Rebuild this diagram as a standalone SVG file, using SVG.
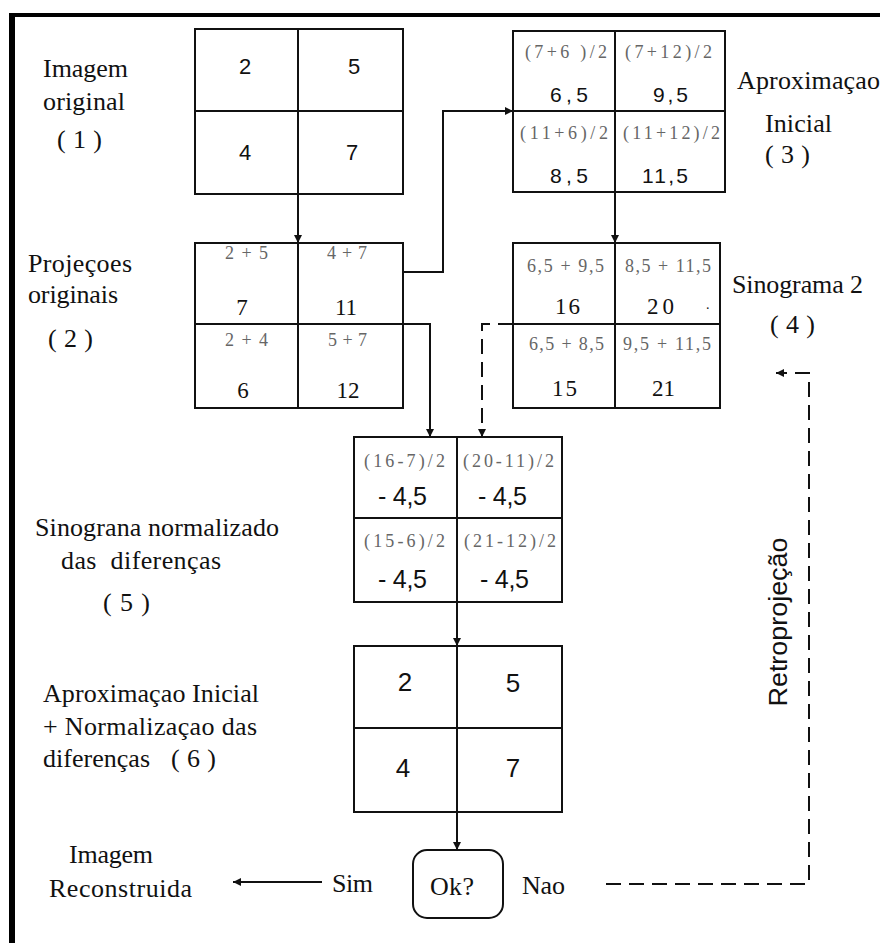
<svg xmlns="http://www.w3.org/2000/svg" width="880" height="943" viewBox="0 0 880 943">
<style>
.bg{fill:#fff}
.frame{stroke:#000;fill:none}
.cell{fill:none;stroke:#111;stroke-width:2}
.lbl{font-family:"Liberation Serif","Times New Roman",serif;font-size:26px;fill:#111}
.f{font-family:"Liberation Serif","Times New Roman",serif;font-size:18px;fill:#666}
.ns{font-family:"Liberation Sans",Arial,sans-serif;fill:#111}
.nr{font-family:"Liberation Serif","Times New Roman",serif;fill:#111}
.c{fill:none;stroke:#111;stroke-width:2}
.d{fill:none;stroke:#111;stroke-width:2;stroke-dasharray:15 8}
</style>
<defs>
<marker id="ah" markerUnits="userSpaceOnUse" markerWidth="9" markerHeight="9" refX="8" refY="4.5" orient="auto">
<path d="M0,0.5 L8,4.5 L0,8.5 z" fill="#111"/>
</marker>
</defs>
<rect class="bg" x="0" y="0" width="880" height="943"/>
<g id="frame">
<line class="frame" x1="9" y1="15" x2="880" y2="15" stroke-width="4"/>
<line class="frame" x1="12" y1="13" x2="12" y2="943" stroke-width="6"/>
</g>

<g id="connectors">
<line class="c" x1="298" y1="194" x2="298" y2="243" marker-end="url(#ah)"/>
<polyline class="c" points="403,272 443,272 443,111 513,111" marker-end="url(#ah)"/>
<line class="c" x1="615" y1="192" x2="615" y2="243" marker-end="url(#ah)"/>
<polyline class="c" points="403,324 430,324 430,437" marker-end="url(#ah)"/>
<polyline class="d" points="513,324 482,324 482,437" marker-end="url(#ah)"/>
<line class="c" x1="457" y1="602" x2="457" y2="646" marker-end="url(#ah)"/>
<line class="c" x1="457" y1="812" x2="457" y2="850" marker-end="url(#ah)"/>
<line class="c" x1="322" y1="882" x2="233" y2="882" marker-end="url(#ah)"/>
<polyline class="d" points="606,884 809,884 809,373 776,373" marker-end="url(#ah)"/>
<text class="ns" font-size="26" transform="translate(787,622) rotate(-90)" text-anchor="middle" textLength="169" lengthAdjust="spacingAndGlyphs">Retroprojeção</text>
</g>

<g id="imagem-original">
<rect class="cell" x="195" y="29" width="208" height="165"/>
<line class="cell" x1="298" y1="29" x2="298" y2="194"/>
<line class="cell" x1="195" y1="111" x2="403" y2="111"/>
<text class="ns" font-size="22" text-anchor="middle" x="245" y="74">2</text>
<text class="ns" font-size="22" text-anchor="middle" x="354" y="74">5</text>
<text class="ns" font-size="22" text-anchor="middle" x="245" y="160">4</text>
<text class="ns" font-size="22" text-anchor="middle" x="352" y="160">7</text>
<text class="lbl" x="43" y="77" textLength="85">Imagem</text>
<text class="lbl" x="43" y="110" textLength="82">original</text>
<text class="lbl" x="57" y="148" textLength="45">( 1 )</text>
</g>

<g id="projecoes-originais">
<rect class="cell" x="195" y="243" width="208" height="165"/>
<line class="cell" x1="298" y1="243" x2="298" y2="408"/>
<line class="cell" x1="195" y1="324" x2="403" y2="324"/>
<text class="f" x="225" y="259" textLength="43">2 + 5</text>
<text class="f" x="327" y="259" textLength="40">4 + 7</text>
<text class="nr" font-size="23" text-anchor="middle" x="242" y="315">7</text>
<text class="nr" font-size="23" text-anchor="middle" x="346" y="315">11</text>
<text class="f" x="225" y="346" textLength="43">2 + 4</text>
<text class="f" x="328" y="346" textLength="39">5 + 7</text>
<text class="nr" font-size="23" text-anchor="middle" x="243" y="398">6</text>
<text class="nr" font-size="23" text-anchor="middle" x="348" y="398">12</text>
<text class="lbl" x="28" y="272" textLength="104">Projeçoes</text>
<text class="lbl" x="28" y="303" textLength="90">originais</text>
<text class="lbl" x="48" y="347" textLength="45">( 2 )</text>
</g>

<g id="aproximacao-inicial">
<rect class="cell" x="513" y="31" width="212" height="161"/>
<line class="cell" x1="615" y1="31" x2="615" y2="192"/>
<line class="cell" x1="513" y1="111" x2="725" y2="111"/>
<text class="f" x="525" y="58" textLength="82">(7+6 )/2</text>
<text class="f" x="625" y="58" textLength="87">(7+12)/2</text>
<text class="ns" font-size="21" x="550" y="102" textLength="38">6,5</text>
<text class="ns" font-size="21" x="653" y="102" textLength="35">9,5</text>
<text class="f" x="520" y="139" textLength="88">(11+6)/2</text>
<text class="f" x="623" y="139" textLength="97">(11+12)/2</text>
<text class="ns" font-size="21" x="550" y="183" textLength="38">8,5</text>
<text class="ns" font-size="21" x="642" y="183" textLength="46">11,5</text>
<text class="lbl" x="737" y="89" textLength="143">Aproximaçao</text>
<text class="lbl" x="765" y="132" textLength="67">Inicial</text>
<text class="lbl" x="765" y="163" textLength="45">( 3 )</text>
</g>

<g id="sinograma-2">
<rect class="cell" x="513" y="243" width="207" height="165"/>
<line class="cell" x1="615" y1="243" x2="615" y2="408"/>
<line class="cell" x1="513" y1="324" x2="720" y2="324"/>
<text class="f" x="527" y="272" textLength="77">6,5 + 9,5</text>
<text class="f" x="625" y="272" textLength="86">8,5 + 11,5</text>
<text class="nr" font-size="23" x="555" y="314" textLength="25">16</text>
<text class="nr" font-size="23" x="647" y="314" textLength="27">20</text>
<text class="nr" font-size="14" x="706" y="309">.</text>
<text class="f" x="529" y="350" textLength="75">6,5 + 8,5</text>
<text class="f" x="623" y="350" textLength="88">9,5 + 11,5</text>
<text class="nr" font-size="23" x="552" y="396" textLength="25">15</text>
<text class="nr" font-size="23" x="652" y="396" textLength="23">21</text>
<text class="lbl" x="732" y="293" textLength="131">Sinograma 2</text>
<text class="lbl" x="770" y="333" textLength="45">( 4 )</text>
</g>

<g id="sinograma-normalizado">
<rect class="cell" x="354" y="437" width="208" height="165"/>
<line class="cell" x1="457" y1="437" x2="457" y2="602"/>
<line class="cell" x1="354" y1="518" x2="562" y2="518"/>
<text class="f" x="364" y="467" textLength="81">(16-7)/2</text>
<text class="f" x="463" y="467" textLength="91">(20-11)/2</text>
<text class="ns" font-size="25" x="378" y="505" textLength="49">- 4,5</text>
<text class="ns" font-size="25" x="478" y="505" textLength="49">- 4,5</text>
<text class="f" x="364" y="547" textLength="81">(15-6)/2</text>
<text class="f" x="464" y="547" textLength="92">(21-12)/2</text>
<text class="ns" font-size="25" x="378" y="588" textLength="49">- 4,5</text>
<text class="ns" font-size="25" x="480" y="588" textLength="49">- 4,5</text>
<text class="lbl" x="35" y="536" textLength="244">Sinograna normalizado</text>
<text class="lbl" x="61" y="569" textLength="160" xml:space="preserve">das  diferenças</text>
<text class="lbl" x="103" y="611" textLength="47">( 5 )</text>
</g>

<g id="aproximacao-normalizacao">
<rect class="cell" x="354" y="646" width="208" height="166"/>
<line class="cell" x1="457" y1="646" x2="457" y2="812"/>
<line class="cell" x1="354" y1="728" x2="562" y2="728"/>
<text class="ns" font-size="26" text-anchor="middle" x="405" y="691">2</text>
<text class="ns" font-size="26" text-anchor="middle" x="513" y="692">5</text>
<text class="ns" font-size="26" text-anchor="middle" x="403" y="777">4</text>
<text class="ns" font-size="26" text-anchor="middle" x="513" y="777">7</text>
<text class="lbl" x="43" y="702" textLength="216">Aproximaçao Inicial</text>
<text class="lbl" x="43" y="735" textLength="214">+ Normalizaçao das</text>
<text class="lbl" x="43" y="767" textLength="107">diferenças</text>
<text class="lbl" x="171" y="767" textLength="45">( 6 )</text>
</g>

<g id="ok">
<rect class="cell" x="413" y="850" width="90" height="68" rx="14" ry="14"/>
<text class="lbl" x="430" y="895" textLength="44">Ok?</text>
<text class="lbl" x="332" y="892" textLength="41">Sim</text>
<text class="lbl" x="522" y="894" textLength="43">Nao</text>
</g>

<g id="imagem-reconstruida">
<text class="lbl" x="69" y="863" textLength="84">Imagem</text>
<text class="lbl" x="49" y="897" textLength="143">Reconstruida</text>
</g>
</svg>
